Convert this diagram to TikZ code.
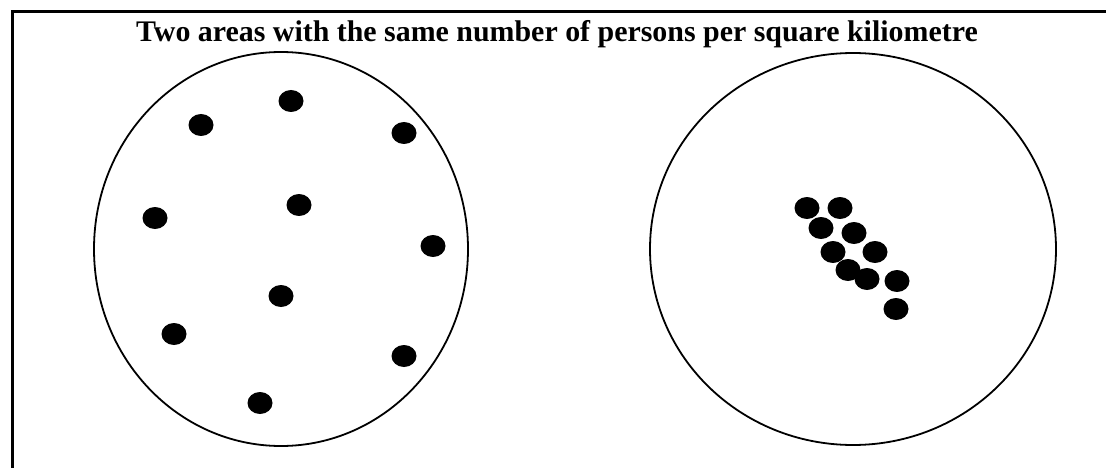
\documentclass[tikz,border=0pt]{standalone}
\usepackage{fontspec}
\setmainfont{Liberation Serif}
\begin{document}
\begin{tikzpicture}[x=1pt,y=-1pt,
  area/.style={draw=black,line width=1.8pt},
  person/.style={fill=black,draw=none},
  frame/.style={draw=black,line width=3pt}]
\useasboundingbox (0,0) rectangle (1106,468);
\draw[frame] (12.5,480) -- (12.5,11.5) -- (1120,11.5);
\node[font=\bfseries\fontsize{29.9}{34}\selectfont,anchor=base] (title) at (557,42) {Two areas with the same number of persons per square kiliometre};
\draw[area] (281,249) ellipse [x radius=187, y radius=197];
\draw[area] (853,249) ellipse [x radius=203, y radius=196];
\foreach \p/\q [count=\i] in {201/125,291/101,404/133,155/218,299/205,433/246,281/296,174/334,404/356,260/403}
  \fill[person] (\p,\q) ellipse [x radius=12.5, y radius=11];
\foreach \p/\q in {807/208,840/208,821/228,854/233,833/252,875/252,848/270,867/279,897/281,896/309}
  \fill[person] (\p,\q) ellipse [x radius=12.5, y radius=11];
\end{tikzpicture}
\end{document}
